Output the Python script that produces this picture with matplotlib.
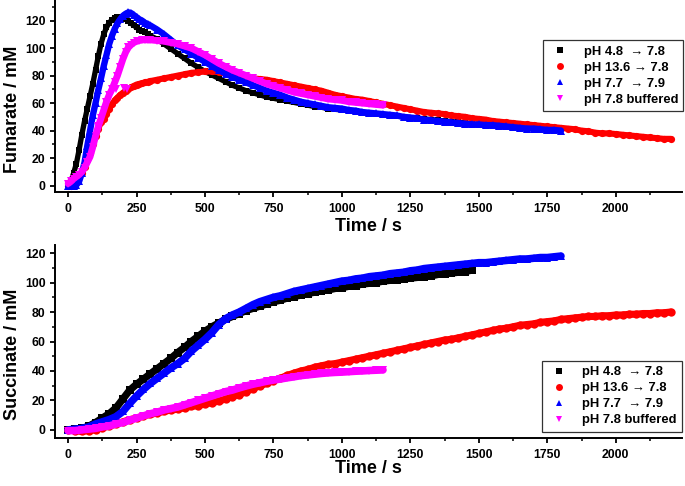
import numpy as np
import matplotlib
matplotlib.use('Agg')
from matplotlib import pyplot as plt
from matplotlib.ticker import MultipleLocator

plt.rcParams['font.family'] = ['Liberation Sans', 'DejaVu Sans']
plt.rcParams['font.weight'] = 'bold'

labels = ['pH 4.8  \u2192 7.8', 'pH 13.6 \u2192 7.8', 'pH 7.7  \u2192 7.9', 'pH 7.8 buffered']
colors = ['#000000', '#ff0000', '#0000ff', '#ff00ff']
markers = ['s', 'o', '^', 'v']

# Fumarate (top): first 30 values every 10 s (0-290 s), then every 25 s from 300 s
fum_black = [0, 3, 9, 16, 26, 37, 47, 56, 65, 74, 84, 94, 103, 110, 115, 118.5, 120.5, 122, 122.5, 122.5,
             122, 121, 119.5, 118, 116.5, 115, 113.5, 112.5, 111.5, 110.5,
             109, 106.5, 103, 99.5, 96, 92.5, 89, 86, 83, 80.5, 78, 75.5, 73, 71, 69, 67.5, 66, 64.5, 63.5, 62.5,
             61.5, 60.5, 59.5, 58.5, 57.5, 57, 56, 55.5, 55, 54.5, 54, 53, 52.5, 52, 51.5, 51, 50.5, 50, 49.5, 49,
             48.5, 48, 47.5, 47, 46.5, 46, 45.5, 45]
fum_red = [0, 0, 1, 3, 6, 9, 13.5, 18.5, 24, 30, 36, 41.5, 46, 48.5, 52, 56, 59, 62, 64, 66,
           67.5, 69, 70.5, 71.5, 72.5, 73.5, 74, 74.5, 75, 75.5,
           76, 77, 78, 79, 80, 81, 82, 82.5, 83, 83, 82.5, 81.5, 80.5, 79.5, 78.5, 78, 77.5, 77, 76, 75,
           74, 73, 72, 71, 70, 69, 67.5, 66, 65, 64, 63, 62.5, 61.5, 60.5, 59.5, 58.5, 57.5, 56.5, 55.5, 54.5,
           53.5, 53, 52.5, 52, 51, 50.5, 50, 49, 48.5, 48, 47, 46.5, 46, 45.5, 45, 44.5, 44, 43.5, 43, 42.5,
           42, 41.5, 41, 40, 39.5, 38.5, 38, 38, 37.5, 37, 36.5, 36, 35.5, 35, 34.5, 34, 34]
fum_blue = [0, 0, 0, 0.5, 3, 9, 17, 29, 40, 51, 60, 69.5, 78, 87, 95, 103, 109, 114, 118, 121,
            123.5, 125, 126, 125.5, 124, 122.5, 121, 120, 118.5, 117.5,
            116.5, 113.5, 110, 106, 102, 99, 96, 93, 90, 87, 84, 81.5, 79, 77, 75, 73, 71, 69, 67.5, 66,
            64, 62.5, 61, 60, 59, 58, 57, 56.5, 56, 55, 54.5, 53.5, 53, 52.5, 52, 51.5, 51, 50, 49.5, 49,
            48, 47.5, 47, 46.5, 46, 45.5, 45, 44.5, 44.5, 44, 44, 43.5, 43, 42.5, 42, 41.5, 41.5, 41, 40.5, 40.5,
            40]
fum_magenta = [1.5, 3, 5, 6.5, 8, 10, 13, 17, 21, 28, 36, 43, 49, 55, 61, 66, 70, 75, 80, 86,
               92, 97, 100.5, 102.5, 104, 105, 105.5, 106, 106, 106,
               106, 105.5, 105, 104, 103, 101.5, 100, 97.5, 95, 92, 89, 86.5, 84, 82, 80, 78, 76, 74, 72.5, 71,
               69.5, 68, 67, 66, 65, 64, 63, 62.5, 62, 61, 60.5, 60, 59.5, 59, 58.5]
fum_magenta_stray_t = [175, 205, 215]
fum_magenta_stray = [70, 71, 70]

# Succinate (bottom): every 25 s from 0 s
suc_black = [0, 0.5, 1, 2.5, 5, 8, 11, 15, 21, 27, 31, 34.5, 38, 41.5, 45, 48.5, 52.5, 56, 60, 63.5,
             67, 70, 72.5, 75, 77, 79, 81, 82.5, 84, 85.5, 87, 88, 89.5, 90.5, 91.5, 92.5, 93.5, 94.5, 95, 96,
             96.5, 97.5, 98, 99, 99.5, 100, 101, 101.5, 102, 102.5, 103, 103.5, 104, 104.5, 105.5, 106, 106.5, 107,
             107.5, 108.5]
suc_red = [0, -0.5, -1, -0.5, 0, 1.5, 2.5, 4, 5.5, 7, 8, 9.5, 10.5, 11.5, 12.5, 13.5, 14, 15, 16, 16.5,
           17.5, 18.5, 19.5, 21, 22.5, 24, 26, 28, 30, 31.5, 33.5, 35, 37, 38.5, 40, 41, 42.5, 43.5, 44.5, 45,
           46, 47, 48, 49, 50, 51, 52, 53, 54, 55, 56, 57, 58, 59, 60, 61, 61.5, 62.5, 63.5, 64.5,
           65.5, 66.5, 67.5, 68.5, 69, 70, 71, 71.5, 72, 73, 73.5, 74, 75, 75.5, 76, 76.5, 77, 77, 77.5, 77.5,
           78, 78, 78.5, 78.5, 79, 79, 79.5, 79.5, 80]
suc_blue = [0, 0.5, 1, 2, 4, 5.5, 7, 9, 12.5, 18, 23, 27.5, 31.5, 35, 38.5, 42, 45, 48.5, 53.5, 57.5,
            61.5, 66, 71.5, 75.5, 78, 80, 82.5, 85, 87, 88.5, 90, 91, 92.5, 94, 95, 96, 97, 98, 99, 100,
            101, 101.5, 102.5, 103, 104, 104.5, 105, 106, 106.5, 107, 108, 108.5, 109.5, 110, 110.5, 111, 111.5, 112,
            112.5, 113, 113.5, 113.5, 114, 114.5, 115, 115.5, 116, 116, 116.5, 117, 117, 117.5, 118]
suc_magenta = [-0.5, -0.5, 0, 0.5, 1, 2, 2.7, 4, 5, 6.5, 8, 9.5, 11, 12, 13.5, 14.5, 15.5, 17, 18.5, 20,
               21.5, 23, 24.5, 26, 27, 28.5, 29.8, 31, 32, 33, 33.8, 34.5, 35.3, 36, 36.8, 37.3, 37.8, 38.3, 38.7, 39,
               39.2, 39.5, 39.8, 40, 40.3, 40.5, 40.7]


def fum_time(vals):
    return np.concatenate([np.arange(0, 300, 10), 300 + 25 * np.arange(len(vals) - 30)])


def suc_time(vals):
    return 25 * np.arange(len(vals))


def style_axes(ax, ylim):
    ax.set_xlim(-48, 2242)
    ax.set_ylim(*ylim)
    for s in ['top', 'right']:
        ax.spines[s].set_visible(False)
    for s in ['left', 'bottom']:
        ax.spines[s].set_linewidth(1.4)
    ax.xaxis.set_major_locator(MultipleLocator(250))
    ax.xaxis.set_minor_locator(MultipleLocator(125))
    ax.yaxis.set_major_locator(MultipleLocator(20))
    ax.yaxis.set_minor_locator(MultipleLocator(10))
    ax.tick_params(which='major', direction='out', length=3.8, width=1.3, labelsize=8.8, pad=3)
    ax.tick_params(axis='x', which='major', pad=4)
    ax.tick_params(which='minor', direction='out', length=2.2, width=1.1)
    ax.tick_params(top=False, right=False, which='both')
    ax.set_xticks([0, 250, 500, 750, 1000, 1250, 1500, 1750, 2000])
    for lab in ax.get_xticklabels() + ax.get_yticklabels():
        lab.set_fontweight('bold')


def add_legend(ax, anchor):
    leg = ax.legend(loc='upper right', bbox_to_anchor=anchor, frameon=True, fancybox=False,
                    borderpad=0.4, labelspacing=0.3, handlelength=1.8,
                    handletextpad=0.9, borderaxespad=0,
                    prop={'weight': 'bold', 'size': 9.4})
    leg.get_frame().set_edgecolor('black')
    leg.get_frame().set_linewidth(0.9)
    for h in leg.legend_handles:
        h.set_markersize(5)


def draw(ax, t, vals, c, m, ms, lab):
    # thick band under the markers, as the dense measured points merge into one strip
    ax.plot(t, vals, '-', color=c, lw=ms * 0.85, solid_capstyle='round')
    ax.plot(t, vals, linestyle='none', marker=m, color=c, ms=ms, mew=0, label=lab)


fig = plt.figure(figsize=(6.85, 4.86), dpi=100)
ax1 = fig.add_axes([55 / 685, (486 - 192.5) / 486, 627 / 685, 192.5 / 486])
ax2 = fig.add_axes([55 / 685, (486 - 438) / 486, 627 / 685, (438 - 245) / 486])

fum_sets = [fum_black, fum_red, fum_blue, fum_magenta]
fum_ms = [4.5, 5.2, 5.4, 5.8]
for vals, c, m, lab, ms in zip(fum_sets, colors, markers, labels, fum_ms):
    draw(ax1, fum_time(vals), vals, c, m, ms, lab)
    if c == '#ff00ff':
        ax1.plot(fum_magenta_stray_t, fum_magenta_stray, linestyle='none', marker=m, color=c, ms=ms, mew=0)

suc_sets = [suc_black, suc_red, suc_blue, suc_magenta]
suc_ms = [6.2, 6.0, 6.4, 6.4]
for vals, c, m, lab, ms in zip(suc_sets, colors, markers, labels, suc_ms):
    draw(ax2, suc_time(vals), vals, c, m, ms, lab)

style_axes(ax1, (-5, 135))
style_axes(ax2, (-5.5, 125.5))

ax1.set_ylabel('Fumarate / mM', fontsize=13, fontweight='bold')
ax2.set_ylabel('Succinate / mM', fontsize=13, fontweight='bold')
ax1.yaxis.set_label_coords(-0.055, 0.432)
ax2.yaxis.set_label_coords(-0.055, 0.433)
ax1.set_xlabel('Time / s', fontsize=13, fontweight='bold')
ax2.set_xlabel('Time / s', fontsize=13, fontweight='bold')
ax1.xaxis.set_label_coords(0.5, -0.13)
ax2.xaxis.set_label_coords(0.5, -0.112)

add_legend(ax1, (1.002, 0.79))
add_legend(ax2, (1.0, 0.40))

plt.savefig('out.png', dpi=100)
